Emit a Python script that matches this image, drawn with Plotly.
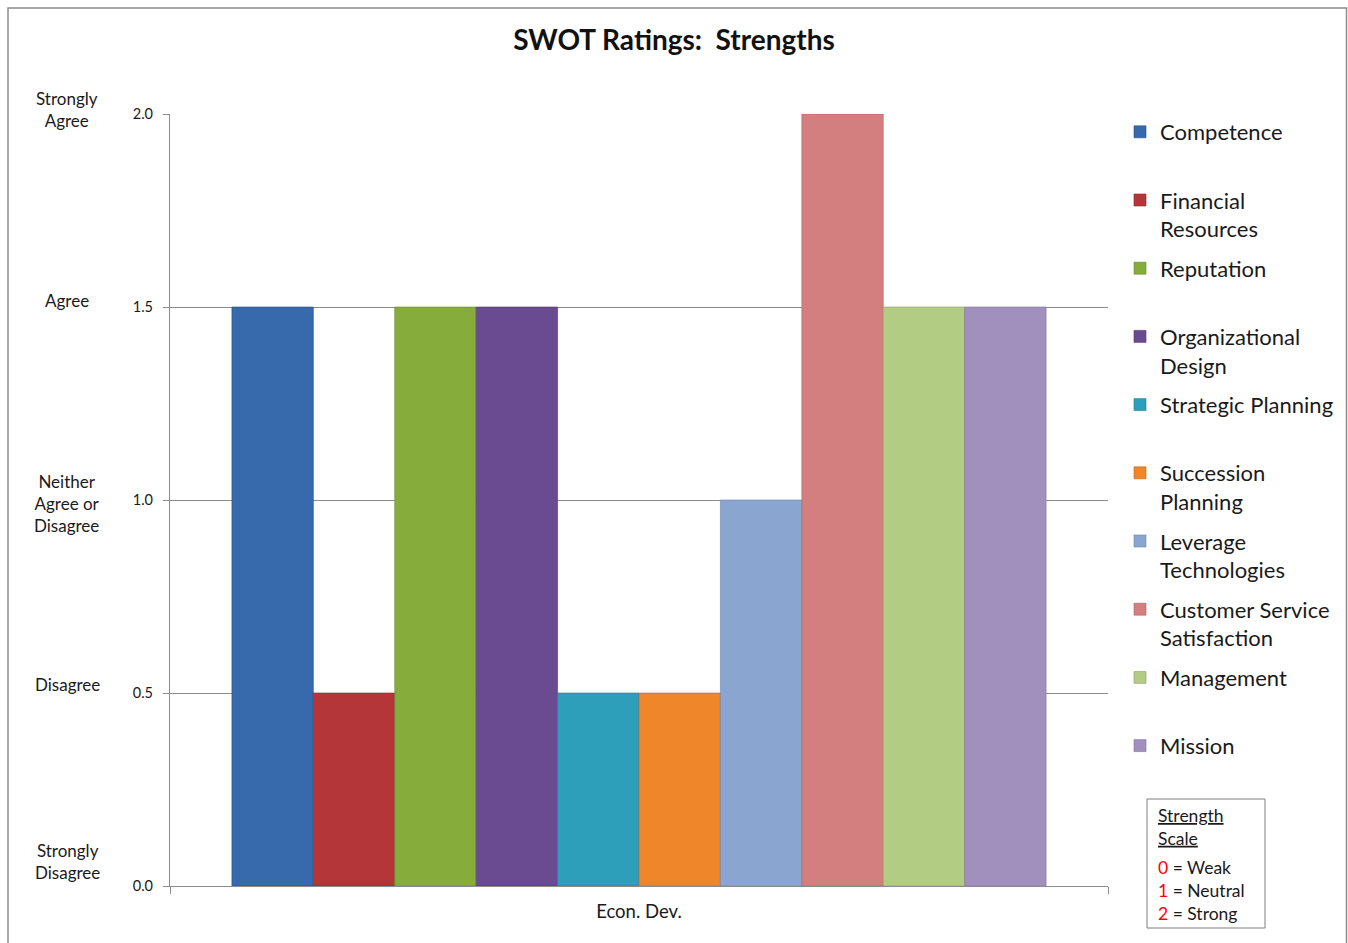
import plotly.graph_objects as go

category = ["Econ. Dev."]
series_names = ["Competence", "Financial<br>Resources", "Reputation", "Organizational<br>Design",
                "Strategic Planning", "Succession<br>Planning", "Leverage<br>Technologies",
                "Customer Service<br>Satisfaction", "Management", "Mission"]
series_values = [1.5, 0.5, 1.5, 1.5, 0.5, 0.5, 1.0, 2.0, 1.5, 1.5]
series_colors = ["#3769ad", "#b53638", "#86ad3c", "#6a4a90", "#2e9fbb",
                 "#f0862a", "#8aa5d0", "#d47f7f", "#b2cc84", "#a190be"]
line_colors = ["#2b5184", "#8c2a2b", "#6a8a2f", "#523a70", "#247d93",
               "#c06a20", "#6d84a8", "#a86565", "#8ea36a", "#807398"]
y_ticks = [0.0, 0.5, 1.0, 1.5, 2.0]
scale_labels = ["Strongly<br>Disagree", "Disagree", "Neither<br>Agree or<br>Disagree", "Agree", "Strongly<br>Agree"]
scale_shifts = [25, 9, -3, 7, 5]
scale_header = "<u>Strength</u><br><u>Scale</u>"
scale_lines = ["<span style='color:#ff0000'>0</span> = Weak",
               "<span style='color:#ff0000'>1</span> = Neutral",
               "<span style='color:#ff0000'>2</span> = Strong"]

FONT = "Lato"
W, H = 1348, 943
L, R, T, B = 170, 240, 114, 57
pw, ph = W - L - R, H - T - B

def px(X):
    return (X - L) / pw

def py(Y):
    return (H - B - Y) / ph

fig = go.Figure()
for i, (name, val) in enumerate(zip(series_names, series_values)):
    label = name if "<br>" in name else name + "<br> "
    fig.add_trace(go.Bar(
        x=category, y=[val], name=label, legendgroup=f"g{i}",
        marker=dict(color=series_colors[i], line=dict(color=line_colors[i], width=0.6)),
    ))

annotations = []
for v, txt, s in zip(y_ticks, scale_labels, scale_shifts):
    annotations.append(dict(
        x=px(67), xref="paper", y=v, yref="y", yshift=s, text=txt, showarrow=False,
        xanchor="center", yanchor="middle", font=dict(family=FONT, size=17, color="#1a1a1a"),
    ))

box_font = dict(family=FONT, size=17.5, color="#1a1a1a")
annotations.append(dict(
    x=px(1156), xref="paper", y=py(803), yref="paper", xanchor="left", yanchor="top",
    showarrow=False, align="left", text=scale_header, font=box_font,
))
annotations.append(dict(
    x=px(1156), xref="paper", y=py(855), yref="paper", xanchor="left", yanchor="top",
    showarrow=False, align="left", text="<br>".join(scale_lines), font=box_font,
))

shapes = [
    dict(type="rect", xref="paper", yref="paper",
         x0=px(8), x1=px(1346.5), y0=py(948), y1=py(8),
         line=dict(color="#8c8c8c", width=1.5), fillcolor="rgba(0,0,0,0)", layer="below"),
    dict(type="rect", xref="paper", yref="paper",
         x0=px(1147), x1=px(1265), y0=py(928), y1=py(799),
         line=dict(color="#7f7f7f", width=1), fillcolor="rgba(0,0,0,0)"),
]

fig.update_layout(
    width=W, height=H,
    margin=dict(l=L, r=R, t=T, b=B, autoexpand=False),
    paper_bgcolor="white", plot_bgcolor="white",
    barmode="group", bargap=0.132, bargroupgap=0,
    title=dict(text="<b>SWOT Ratings:  Strengths</b>", x=0.5, xanchor="center",
               y=1 - 40 / H, yanchor="middle", font=dict(family=FONT, size=28, color="#111")),
    font=dict(family=FONT, color="#1a1a1a"),
    xaxis=dict(type="category", showline=True, linecolor="#8c8c8c", linewidth=1.2,
               ticks="outside", tickson="boundaries", ticklen=7, tickcolor="#8c8c8c",
               ticklabelstandoff=9,
               tickfont=dict(family=FONT, size=18.5, color="#1a1a1a"), showgrid=False),
    yaxis=dict(range=[0, 2], tickvals=y_ticks, tickformat=".1f", showline=True,
               linecolor="#8c8c8c", linewidth=1.2, ticks="outside", ticklen=6,
               tickcolor="#8c8c8c", showgrid=True, gridcolor="#8c8c8c", gridwidth=1,
               ticklabelstandoff=7,
               zeroline=False, tickfont=dict(family=FONT, size=14.5, color="#1a1a1a")),
    legend=dict(x=px(1120), y=py(453), xanchor="left", yanchor="middle",
                traceorder="grouped", tracegroupgap=8, valign="top",
                font=dict(family=FONT, size=22, color="#1a1a1a"),
                bgcolor="rgba(0,0,0,0)"),
    annotations=annotations, shapes=shapes,
)

fig.write_html("out.html")
